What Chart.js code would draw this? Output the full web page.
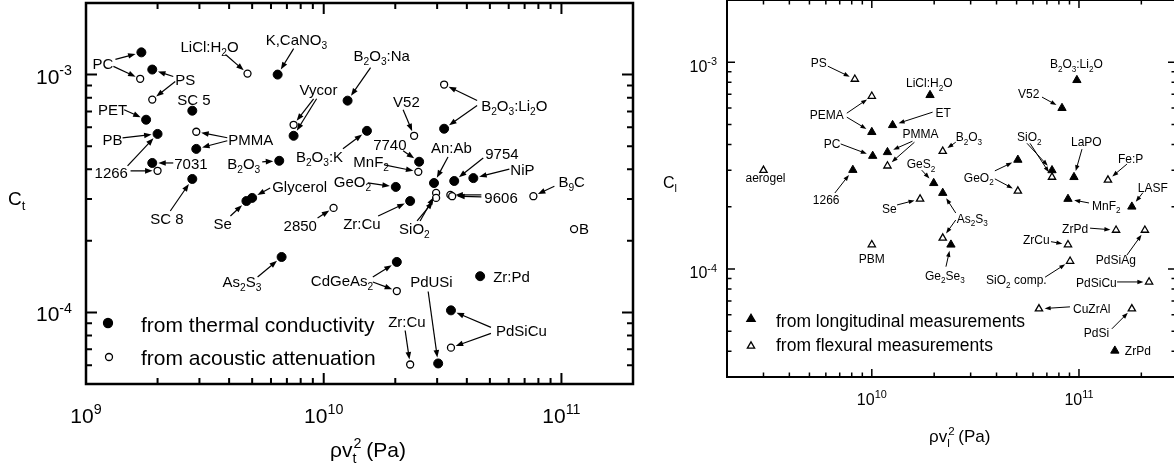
<!DOCTYPE html>
<html><head><meta charset="utf-8">
<script src="https://cdn.jsdelivr.net/npm/chart.js@4.4.1/dist/chart.umd.min.js"></script>
<style>
html,body{margin:0;padding:0;background:#fff;overflow:hidden}
#wrap{position:relative;width:1174px;height:473px;overflow:hidden;background:#fff}
#left{position:absolute;left:0;top:0}
#right{position:absolute;left:640px;top:0}
</style></head><body>
<div id="wrap"><canvas id="left" width="640" height="473"></canvas><canvas id="right" width="540" height="473"></canvas></div>
<script>
// ---- left panel: C_t vs rho v_t^2 ----
// filled: from thermal conductivity
const tNames = ['PC','PS','SC 5','PET','PB','PMMA','7031','SC 8','B2O3','K,CaNO3','Se','Glycerol','Vycor','B2O3:Na','B2O3:K','B2O3:Li2O','7740','GeO2','An:Ab','9754','NiP','Zr:Cu','As2S3','CdGeAs2','Zr:Pd','PdSiCu','PdUSi'];
const tX = [1.71e9,1.9e9,2.8e9,1.79e9,2.0e9,2.91e9,1.9e9,2.8e9,6.5e9,6.4e9,4.73e9,5.0e9,7.47e9,1.26e10,1.52e10,3.21e10,2.52e10,2.01e10,2.91e10,3.54e10,4.26e10,2.31e10,6.65e9,2.03e10,4.55e10,3.43e10,3.03e10];
const tY = [1.24e-3,1.05e-3,7.05e-4,6.46e-4,5.63e-4,4.87e-4,4.25e-4,3.64e-4,4.34e-4,1.0e-3,2.94e-4,3.03e-4,5.53e-4,7.77e-4,5.8e-4,5.92e-4,4.3e-4,3.37e-4,3.5e-4,3.57e-4,3.67e-4,2.94e-4,1.71e-4,1.63e-4,1.42e-4,1.02e-4,6.1e-5];
// open: from acoustic attenuation
const aNames = ['PC','PS','PMMA','1266','LiCl:H2O','Vycor','V52','B2O3:Li2O','MnF2','SiO2 a','SiO2 b','9606 a','9606 b','B9C','B','2850','CdGeAs2','PdSiCu','Zr:Cu'];
const aX = [1.69e9,1.9e9,2.91e9,2.0e9,4.78e9,7.47e9,2.4e10,3.21e10,2.5e10,2.97e10,2.97e10,3.41e10,3.47e10,7.62e10,1.13e11,1.1e10,2.03e10,3.43e10,2.31e10];
const aY = [9.6e-4,7.85e-4,5.75e-4,3.94e-4,1.01e-3,6.15e-4,5.53e-4,9.08e-4,3.9e-4,3.18e-4,3.03e-4,3.12e-4,3.08e-4,3.08e-4,2.24e-4,2.75e-4,1.23e-4,7.11e-5,6.04e-5];

// ---- right panel: C_l vs rho v_l^2 ----
// filled: longitudinal
const lNames = ['PEMA','PC','1266','ET','PMMA','LiCl:H2O','B2O3:Li2O','V52','GeS2','As2S3','GeO2','SiO2','LaPO','MnF2','LASF','Ge2Se3','ZrPd'];
const lX = [1.0e10,1.01e10,8.1e9,1.26e10,1.19e10,1.91e10,9.77e10,8.28e10,1.99e10,2.2e10,5.07e10,7.41e10,9.46e10,8.85e10,1.8e11,2.41e10,1.49e11];
const lY = [4.59e-4,3.52e-4,3.01e-4,4.96e-4,3.67e-4,6.93e-4,8.19e-4,6.0e-4,2.6e-4,2.33e-4,3.37e-4,3.0e-4,2.78e-4,2.18e-4,2.0e-4,1.31e-4,4.02e-5];
// open: flexural
const fNames = ['PS','PEMA','aerogel','PMMA','B2O3','Se','As2S3','GeO2','SiO2','Fe:P','ZrPd','PdSiAg','PBM','ZrCu','SiO2 comp.','PdSiCu','CuZrAl','PdSi'];
const fX = [8.28e9,1.0e10,3.0e9,1.19e10,2.2e10,1.71e10,2.2e10,5.07e10,7.41e10,1.38e11,1.51e11,2.08e11,1.0e10,8.85e10,9.06e10,2.18e11,6.41e10,1.8e11];
const fY = [8.28e-4,6.85e-4,3.0e-4,3.15e-4,3.71e-4,2.18e-4,1.41e-4,2.38e-4,2.78e-4,2.69e-4,1.54e-4,1.54e-4,1.31e-4,1.31e-4,1.09e-4,8.65e-5,6.41e-5,6.41e-5];

// tick labels
const leftXTicks = [[1e9,'10^9'],[1e10,'10^{10}'],[1e11,'10^{11}']];
const leftYTicks = [[1e-3,'10^{-3}'],[1e-4,'10^{-4}']];
const rightXTicks = [[1e10,'10^{10}'],[1e11,'10^{11}']];
const rightYTicks = [[1e-3,'10^{-3}'],[1e-4,'10^{-4}']];

// annotations: [text, ref point, label dx, dy (left/baseline), arrows [fromDx, fromDy, target]]
const leftNotes = [
  ['PC','T:PC',-49,17,[[-26,7,'T:PC'],[-28,14,'A:PC']]],
  ['PS','T:PS',23,15,[[21,7,'T:PS'],[23,12,'A:PS']]],
  ['SC 5','T:SC 5',-15,-6,[]],
  ['PET','T:PET',-48,-5,[[-22,-10,'T:PET']]],
  ['PB','T:PB',-55,11,[[-35,4,'T:PB']]],
  ['1266','T:PB',-63,44,[[-30,32,'T:PB'],[-27,37,'A:1266']]],
  ['7031','T:7031',22,6,[[21,0,'T:7031']]],
  ['PMMA','A:PMMA',32,13,[[31,6,'A:PMMA'],[31,9,'T:PMMA']]],
  ['SC 8','T:SC 8',-42,45,[[-22,32,'T:SC 8']]],
  ['LiCl:H_2O','A:LiCl:H2O',-67,-22,[[-22,-19,'A:LiCl:H2O']]],
  ['K,CaNO_3','T:K,CaNO3',-12,-30,[[16,-26,'T:K,CaNO3']]],
  ['B_2O_3','T:B2O3',-52,8,[[-17,1,'T:B2O3']]],
  ['Se','T:Se',-33,28,[[-16,15,'T:Se']]],
  ['Glycerol','T:Glycerol',20,-6,[[18,-10,'T:Glycerol']]],
  ['Vycor','A:Vycor',6,-30,[[20,-26,'A:Vycor'],[23,-26,'T:Vycor']]],
  ['B_2O_3:Na','T:B2O3:Na',6,-40,[[23,-33,'T:B2O3:Na']]],
  ['B_2O_3:K','T:B2O3:K',-71,31,[[-24,18,'T:B2O3:K']]],
  ['V52','A:V52',-21,-29,[[-11,-26,'A:V52']]],
  ['B_2O_3:Li_2O','A:B2O3:Li2O',37,26,[[33,16,'A:B2O3:Li2O'],[33,21,'T:B2O3:Li2O']]],
  ['7740','T:7740',-46,-12,[[-16,-11,'T:7740']]],
  ['MnF_2','A:MnF2',-65,-5,[[-34,-7,'A:MnF2']]],
  ['An:Ab','T:An:Ab',-3,-30,[[14,-26,'T:An:Ab']]],
  ['9754','T:9754',31,-22,[[29,-23,'T:9754']]],
  ['NiP','T:NiP',37,-3,[[36,-9,'T:NiP']]],
  ['GeO_2','T:GeO2',-62,0,[[-28,-4,'T:GeO2']]],
  ['9606','A:9606 a',34,8,[[31,0,'A:9606 a'],[31,2,'A:9606 b']]],
  ['B_9C','A:B9C',25,-9,[[21,-10,'A:B9C']]],
  ['B','A:B',5,5,[]],
  ['2850','A:2850',-50,23,[[-16,10,'A:2850']]],
  ['Zr:Cu','T:Zr:Cu',-67,28,[[-32,15,'T:Zr:Cu']]],
  ['SiO_2','A:SiO2 a',-37,41,[[-19,28,'A:SiO2 b'],[-16,28,'A:SiO2 a']]],
  ['As_2S_3','T:As2S3',-59,30,[[-24,20,'T:As2S3']]],
  ['CdGeAs_2','T:CdGeAs2',-86,24,[[-24,15,'T:CdGeAs2'],[-24,20,'A:CdGeAs2']]],
  ['PdUSi','T:PdUSi',-28,-76,[[-10,-72,'T:PdUSi']]],
  ['Zr:Pd','T:Zr:Pd',13,6,[]],
  ['Zr:Cu','A:Zr:Cu',-22,-37,[[-5,-34,'A:Zr:Cu']]],
  ['PdSiCu','T:PdSiCu',45,26,[[40,17,'T:PdSiCu'],[40,23,'A:PdSiCu']]]
];
const rightNotes = [
  ['PS','F:PS',-44,-12,[[-27,-13,'F:PS']]],
  ['PEMA','F:PEMA',-62,23,[[-25,17,'F:PEMA'],[-25,21,'L:PEMA']]],
  ['PC','L:PC',-49,-8,[[-32,-12,'L:PC']]],
  ['1266','L:1266',-40,34,[[-18,23,'L:1266']]],
  ['aerogel','F:aerogel',-18,12,[]],
  ['LiCl:H_2O','L:LiCl:H2O',-24,-8,[]],
  ['ET','L:ET',43,-8,[[40,-13,'L:ET']]],
  ['PMMA','L:PMMA',15,-14,[[25,-11,'L:PMMA'],[27,-10,'F:PMMA']]],
  ['B_2O_3','F:B2O3',13,-10,[[13,-9,'F:B2O3']]],
  ['GeS_2','L:GeS2',-27,-15,[[-12,-13,'L:GeS2']]],
  ['Se','F:Se',-38,14,[[-23,6,'F:Se']]],
  ['As_2S_3','L:As2S3',14,30,[[13,20,'L:As2S3'],[13,27,'F:As2S3']]],
  ['Ge_2Se_3','L:Ge2Se3',-26,35,[[-5,22,'L:Ge2Se3']]],
  ['GeO_2','L:GeO2',-54,22,[[-23,11,'L:GeO2'],[-23,19,'F:GeO2']]],
  ['SiO_2','L:SiO2',-35,-29,[[-25,-27,'L:SiO2'],[-22,-27,'F:SiO2']]],
  ['V52','L:V52',-44,-10,[[-20,-11,'L:V52']]],
  ['B_2O_3:Li_2O','L:B2O3:Li2O',-27,-12,[]],
  ['LaPO','L:LaPO',-3,-31,[[8,-28,'L:LaPO']]],
  ['Fe:P','F:Fe:P',10,-17,[[19,-16,'F:Fe:P']]],
  ['MnF_2','L:MnF2',24,11,[[21,4,'L:MnF2']]],
  ['LASF','L:LASF',6,-15,[[11,-14,'L:LASF']]],
  ['ZrPd','F:ZrPd',-54,3,[[-26,-2,'F:ZrPd']]],
  ['PdSiAg','F:PdSiAg',-49,34,[[-18,25,'F:PdSiAg']]],
  ['ZrCu','F:ZrCu',-45,-1,[[-17,-3,'F:ZrCu']]],
  ['SiO_2 comp.','F:SiO2 comp.',-84,23,[[-25,16,'F:SiO2 comp.']]],
  ['PdSiCu','F:PdSiCu',-73,5,[[-32,0,'F:PdSiCu']]],
  ['CuZrAl','F:CuZrAl',34,4,[[31,-2,'F:CuZrAl']]],
  ['PdSi','F:PdSi',-48,28,[[-20,20,'F:PdSi']]],
  ['ZrPd','L:ZrPd',10,4,[]],
  ['PBM','F:PBM',-13,18,[]]
];

const FAM = '"Liberation Sans", Arial, Helvetica, sans-serif';

// "_x" / "_{..}" subscript, "^x" / "^{..}" superscript
function parseRich(s){
  const out=[]; let i=0;
  while(i<s.length){
    const c=s[i];
    if(c==='_'||c==='^'){
      const mode=c==='_'?1:2; i++;
      let t;
      if(s[i]==='{'){ const j=s.indexOf('}',i); t=s.slice(i+1,j); i=j+1; }
      else { t=s[i]; i++; }
      out.push({t:t,mode:mode});
    } else {
      let j=i; while(j<s.length && s[j]!=='_' && s[j]!=='^') j++;
      out.push({t:s.slice(i,j),mode:0}); i=j;
    }
  }
  return out;
}
function rich(ctx,s,x,y,size,align){
  const parts=parseRich(s), small=size*0.68;
  let w=0, prev=null;
  parts.forEach(function(p){
    ctx.font=(p.mode?small:size)+'px '+FAM;
    p.w=ctx.measureText(p.t).width;
    p.stack = (p.mode===2 && prev && prev.mode===1);
    w += p.stack ? Math.max(0,p.w-prev.w) : p.w;
    prev=p;
  });
  let cx = align==='center' ? x-w/2 : align==='right' ? x-w : x;
  ctx.textAlign='left'; ctx.textBaseline='alphabetic'; ctx.fillStyle='#000';
  prev=null;
  parts.forEach(function(p){
    ctx.font=(p.mode?small:size)+'px '+FAM;
    const dy = p.mode===1 ? size*0.28 : p.mode===2 ? -size*0.42 : 0;
    let px=cx;
    if(p.stack){ px=cx-prev.w+1; cx=px+p.w-1; if(cx<px+prev.w-1) cx=px+prev.w-1; }
    else cx+=p.w;
    ctx.fillText(p.t,px,y+dy);
    prev=p;
  });
}

function minors(min,max){
  const out=[];
  for(let d=Math.floor(Math.log10(min)); d<=Math.ceil(Math.log10(max)); d++){
    for(let k=2;k<=9;k++){ const v=k*Math.pow(10,d); if(v>min*1.0001 && v<max*0.9999) out.push(v); }
  }
  return out;
}

function arrow(ctx,x1,y1,p,hl,hw){
  const dx=p.x-x1, dy=p.y-y1, L=Math.hypot(dx,dy)||1, ux=dx/L, uy=dy/L;
  const ex=p.x-ux*(p.r+1.5), ey=p.y-uy*(p.r+1.5);
  ctx.beginPath(); ctx.moveTo(x1,y1); ctx.lineTo(ex-ux*hl*0.7, ey-uy*hl*0.7); ctx.stroke();
  ctx.beginPath(); ctx.moveTo(ex,ey);
  ctx.lineTo(ex-ux*hl-uy*hw, ey-uy*hl+ux*hw);
  ctx.lineTo(ex-ux*hl+uy*hw, ey-uy*hl-ux*hw);
  ctx.closePath(); ctx.fill();
}

function marker(ctx,style,r,filled,x,y,bw){
  ctx.save();
  ctx.fillStyle=filled?'#000':'#fff'; ctx.strokeStyle='#000'; ctx.lineWidth=bw;
  Chart.helpers.drawPoint(ctx,{pointStyle:style,radius:r,borderWidth:bw,rotation:0},x,y);
  ctx.restore();
}

function decor(cfg){
  return { id:'decor', afterDraw:function(chart){
    const ctx=chart.ctx, ca=chart.chartArea, sx=chart.scales.x, sy=chart.scales.y;
    const pts={};
    chart.data.datasets.forEach(function(ds){
      ds.data.forEach(function(d){
        pts[ds.prefix+':'+d.name]={x:sx.getPixelForValue(d.x), y:sy.getPixelForValue(d.y), r:ds.hitR};
      });
    });
    ctx.save();
    // annotations
    ctx.strokeStyle='#000'; ctx.fillStyle='#000'; ctx.lineWidth=cfg.arrowW;
    cfg.notes.forEach(function(n){
      const ref=pts[n[1]];
      rich(ctx,n[0],ref.x+n[2],ref.y+n[3],cfg.noteSize,'left');
      n[4].forEach(function(a){ arrow(ctx,ref.x+a[0],ref.y+a[1],pts[a[2]],cfg.headL,cfg.headW); });
    });
    // frame + inward ticks
    ctx.lineWidth=cfg.frameW; ctx.strokeStyle='#000';
    ctx.strokeRect(ca.left,ca.top,ca.right-ca.left,ca.bottom-ca.top);
    ctx.lineWidth=cfg.tickW;
    ctx.beginPath();
    const xt=cfg.xTicks.map(function(t){return [t[0],cfg.majL];}).concat(minors(cfg.xMin,cfg.xMax).map(function(v){return [v,cfg.minL];}));
    const yt=cfg.yTicks.map(function(t){return [t[0],cfg.majL];}).concat(minors(cfg.yMin,cfg.yMax).map(function(v){return [v,cfg.minL];}));
    xt.forEach(function(t){ const x=sx.getPixelForValue(t[0]);
      ctx.moveTo(x,ca.bottom); ctx.lineTo(x,ca.bottom-t[1]);
      ctx.moveTo(x,ca.top); ctx.lineTo(x,ca.top+t[1]); });
    yt.forEach(function(t){ const y=sy.getPixelForValue(t[0]);
      ctx.moveTo(ca.left,y); ctx.lineTo(ca.left+t[1],y);
      ctx.moveTo(ca.right,y); ctx.lineTo(ca.right-t[1],y); });
    ctx.stroke();
    // tick labels
    cfg.xTicks.forEach(function(t){ rich(ctx,t[1],sx.getPixelForValue(t[0]),ca.bottom+cfg.xLabOff,cfg.tickSize,'center'); });
    cfg.yTicks.forEach(function(t){ rich(ctx,t[1],ca.left-cfg.yLabGap,sy.getPixelForValue(t[0])+cfg.yLabDy,cfg.tickSize,'right'); });
    // axis titles
    rich(ctx,cfg.yTitle[0],cfg.yTitle[1],cfg.yTitle[2],cfg.yTitle[3],'left');
    rich(ctx,cfg.xTitle[0],cfg.xTitle[1],cfg.xTitle[2],cfg.xTitle[3],'left');
    // legend
    cfg.legend.forEach(function(l){
      marker(ctx,l.style,l.r,l.filled,l.mx,l.my,1.3);
      rich(ctx,l.text,l.tx,l.ty,l.size,'left');
    });
    ctx.restore();
  }};
}

function series(names,xs,ys,prefix,style,r,filled){
  return {
    data: xs.map(function(x,i){ return {x:x,y:ys[i],name:names[i]}; }),
    prefix:prefix, hitR:r, showLine:false,
    pointStyle:style, pointRadius:r,
    pointBackgroundColor: filled?'#000':'#fff',
    pointBorderColor:'#000', pointBorderWidth: filled?1:1.3
  };
}

function makeChart(id,cfg){
  return new Chart(document.getElementById(id),{
    type:'scatter',
    data:{datasets:cfg.datasets},
    options:{
      responsive:false, animation:false, events:[], devicePixelRatio:1,
      layout:{padding:cfg.pad, autoPadding:false},
      plugins:{legend:{display:false}, tooltip:{enabled:false}},
      scales:{
        x:{type:'logarithmic',min:cfg.xMin,max:cfg.xMax,grid:{display:false},border:{display:false},ticks:{display:false},
           afterFit:function(s){ s.height=cfg.xH; }},
        y:{type:'logarithmic',min:cfg.yMin,max:cfg.yMax,grid:{display:false},border:{display:false},ticks:{display:false},
           afterFit:function(s){ s.width=cfg.yW; }}
      }
    },
    plugins:[decor(cfg)]
  });
}

makeChart('left',{
  datasets:[series(tNames,tX,tY,'T','circle',4.5,true), series(aNames,aX,aY,'A','circle',3.5,false)],
  xMin:1e9, xMax:2e11, yMin:5e-5, yMax:2e-3,
  pad:{top:3,right:7,left:0,bottom:0}, yW:86, xH:89,
  xTicks:leftXTicks, yTicks:leftYTicks,
  notes:leftNotes, noteSize:15, arrowW:1.2, headL:7.5, headW:2.8,
  frameW:2.5, tickW:2, majL:11, minL:6,
  tickSize:21, xLabOff:39, yLabGap:14, yLabDy:9,
  yTitle:['C_t',8,205,19], xTitle:['\u03c1v_t^2 (Pa)',330,457,21],
  legend:[
    {style:'circle',r:4.5,filled:true,mx:108,my:323,text:'from thermal conductivity',tx:141,ty:332,size:21},
    {style:'circle',r:3.5,filled:false,mx:109,my:357,text:'from acoustic attenuation',tx:141,ty:365,size:21}
  ]
});

makeChart('right',{
  datasets:[series(lNames,lX,lY,'L','triangle',4.8,true), series(fNames,fX,fY,'F','triangle',4.2,false)],
  xMin:2e9, xMax:2.94e11, yMin:3e-5, yMax:2e-3,
  pad:{top:0,right:4,left:0,bottom:0}, yW:87, xH:96,
  xTicks:rightXTicks, yTicks:rightYTicks,
  notes:rightNotes, noteSize:12, arrowW:1, headL:6, headW:2.2,
  frameW:2, tickW:1.5, majL:8, minL:4.5,
  tickSize:16, xLabOff:28, yLabGap:10, yLabDy:9.5,
  yTitle:['C_l',23,188,16], xTitle:['\u03c1v_l^2 (Pa)',289,442,17],
  legend:[
    {style:'triangle',r:4.8,filled:true,mx:111,my:319,text:'from longitudinal measurements',tx:136,ty:327,size:17.5},
    {style:'triangle',r:4.2,filled:false,mx:111,my:346,text:'from flexural measurements',tx:136,ty:351,size:17.5}
  ]
});
</script>
</body></html>
